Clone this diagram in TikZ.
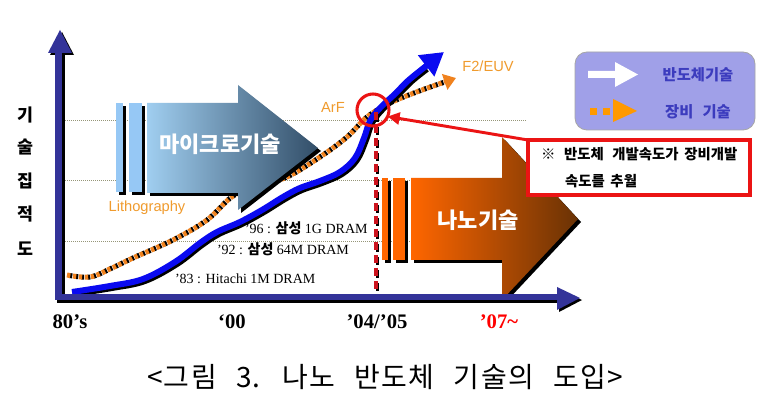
\documentclass[tikz,border=0pt]{standalone}
\usepackage{fontspec}
\setmainfont{Liberation Serif}
\newfontfamily\kr{Noto Sans CJK KR}
\newfontfamily\krcap[WordSpace=2.5,LetterSpace=5]{Noto Sans CJK KR}
\newfontfamily\arial{Liberation Sans}
\usetikzlibrary{arrows.meta}
\definecolor{navy}{RGB}{51,51,153}
\definecolor{curveblue}{RGB}{10,10,240}
\definecolor{curveorange}{RGB}{240,130,30}
\definecolor{textorange}{RGB}{240,155,45}
\definecolor{gridc}{RGB}{150,150,120}
\definecolor{microL}{RGB}{160,206,240}
\definecolor{microR}{RGB}{50,78,104}
\definecolor{microbar}{RGB}{150,200,245}
\definecolor{nanoL}{RGB}{255,102,0}
\definecolor{nanoR}{RGB}{105,50,5}
\definecolor{legendfill}{RGB}{160,160,232}
\definecolor{legendtext}{RGB}{60,60,190}
\definecolor{legendorange}{RGB}{255,153,0}
\definecolor{calloutred}{RGB}{235,20,20}
\definecolor{dashred}{RGB}{205,20,30}
\tikzset{
  every node/.style={inner sep=0pt, outer sep=0pt},
  ylab/.style={font=\kr\bfseries\fontsize{13pt}{15pt}\selectfont},
  bigkr/.style={font=\kr\bfseries\fontsize{16.5pt}{18pt}\selectfont, text=white},
  dram/.style={font=\fontsize{10.5pt}{12pt}\selectfont, anchor=west},
  otext/.style={font=\arial\fontsize{11pt}{12pt}\selectfont, text=textorange},
  xlab/.style={font=\bfseries\fontsize{15.5pt}{17pt}\selectfont},
  gridline/.style={gridc, line width=0.7pt, dash pattern=on 0.75pt off 0.75pt},
  legtext/.style={font=\kr\bfseries\fontsize{11.5pt}{13pt}\selectfont, text=legendtext},
  calltext/.style={font=\kr\bfseries\fontsize{10.8pt}{13pt}\selectfont, anchor=west},
}
\newcommand{\samsung}{{\kr\bfseries 삼성}}
\begin{document}
\begin{tikzpicture}[x=0.75pt, y=-0.75pt]
\useasboundingbox (0,0) rectangle (771,420);
\fill[white] (0,0) rectangle (771,420);

% grid lines
\draw[gridline] (63,120) -- (527,120);
\draw[gridline] (63,180) -- (527,180);
\draw[gridline] (63,241) -- (527,241);

% orange dotted curve (equipment)
\def\opath{(67,275) (90,277) (112,268) (133,258) (173,240) (207,220) (233,196) (260,185) (287,177) (320,157) (347,137) (367,117) (390,103) (414,93) (436,85)}
\draw[black, line width=3.75pt, dash pattern=on 2pt off 2.5pt, dash phase=2.5pt] plot[smooth, tension=0.6] coordinates {\opath (445,82)};
\draw[curveorange, line width=3.75pt, dash pattern=on 2.5pt off 2pt, -{Triangle[length=9pt,width=12pt]}] plot[smooth, tension=0.6] coordinates {\opath (456,78)};

% blue curve (semiconductor)
\def\bpath{(72,292) (110,286) (143,279) (175,262) (200,243) (217,232) (240,222) (262,210) (283,197) (300,188) (320,181) (340,172) (355,158) (364,138) (370,121) (380,108) (396,93) (410,79)}
\draw[black, line width=4.5pt, shift={(2,2)}] plot[smooth, tension=0.6] coordinates {\bpath (425,67)};
\draw[curveblue, line width=4.5pt, -{Triangle[length=17pt,width=19pt]}] plot[smooth, tension=0.6] coordinates {\bpath (444,52)};

% micro arrow
\fill[black] (119,106) rectangle (126,195);
\fill[black] (132,106) rectangle (145,195);
\fill[microbar] (116,103) rectangle (123,192);
\fill[microbar] (129,103) rectangle (142,192);
\fill[black] (150,106) -- (241,106) -- (241,88) -- (321,151) -- (241,213) -- (241,196) -- (150,196) -- cycle;
\shade[left color=microL, right color=microR] (147,103) -- (238,103) -- (238,85) -- (318,148) -- (238,210) -- (238,193) -- (147,193) -- cycle;
\node[bigkr] (micro) at (220,144) {마이크로기술};

% nano arrow
\fill[black] (385,181) rectangle (391,263);
\fill[black] (396,181) rectangle (408,263);
\fill[nanoL] (382,178) rectangle (388,260);
\fill[nanoL] (393,178) rectangle (405,260);
\fill[black] (414,181) -- (505,181) -- (505,140) -- (581,222) -- (505,303) -- (505,263) -- (414,263) -- cycle;
\shade[left color=nanoL, right color=nanoR] (411,178) -- (502,178) -- (502,137) -- (578,219) -- (502,300) -- (502,260) -- (411,260) -- cycle;
\node[bigkr] (nano) at (478,220) {나노기술};

% red dashed vertical line
\draw[black, line width=2.6pt, dash pattern=on 6pt off 3.75pt] (377.5,114) -- (377.5,297);
\draw[dashred, line width=2.6pt, dash pattern=on 6pt off 3.75pt] (376,112) -- (376,296);

% axes
\fill[black] (57,55) rectangle (65,303);
\fill[black] (57,296) rectangle (559,303);
\fill[black] (50,55) -- (62,32) -- (74,55) -- cycle;
\fill[black] (559,289) -- (582,300) -- (559,312) -- cycle;
\fill[navy] (55,53) rectangle (62,300);
\fill[navy] (55,294) rectangle (557,300);
\fill[navy] (48,53) -- (60,30) -- (72,53) -- cycle;
\fill[navy] (557,287) -- (580,298) -- (557,310) -- cycle;

% y label
\node[ylab] (yl1) at (25,115) {기};
\node[ylab] (yl2) at (25,147) {술};
\node[ylab] (yl3) at (25,181) {집};
\node[ylab] (yl4) at (25,214) {적};
\node[ylab] (yl5) at (25,249) {도};

% DRAM labels
\node[dram] (d96) at (245,228) {’96 : \samsung{} 1G DRAM};
\node[dram] (d92) at (217,249) {’92 : \samsung{} 64M DRAM};
\node[dram] (d83) at (175,279) {’83 : Hitachi 1M DRAM};

% orange texts
\node[otext] (litho) at (147,208) {Lithography};
\node[otext] (arf) at (333,107) {ArF};
\node[otext] (f2) at (488,66) {F2/EUV};

% x labels
\node[xlab] (x80) at (70,322) {80’s};
\node[xlab] (x00) at (232,322) {‘00};
\node[xlab] (x04) at (377,322) {’04/’05};
\node[xlab, text=red] (x07) at (499,322) {’07\~{}};

% circle and callout
\node[draw=calloutred, line width=2.3pt, circle, minimum size=32*0.75pt] (cross) at (373,110) {};
\node[draw=calloutred, fill=white, line width=2.3pt, minimum width=222*0.75pt, minimum height=55*0.75pt] (callout) at (639,167.5) {};
\draw[calloutred, line width=2.2pt, -{Triangle[length=9pt,width=9pt]}] (callout.north west) -- (cross.-24);
\node[calltext] (c1) at (541,154) {※\hspace{0.6em}반도체\hspace{0.6em}개발속도가\hspace{0.4em}장비개발};
\node[calltext] (c2) at (565,181) {속도를\hspace{0.4em}추월};

% legend
\node[draw=gray!70, line width=0.6pt, fill=legendfill, rounded corners=9pt, minimum width=180*0.75pt, minimum height=78*0.75pt] (legend) at (665,91) {};
\fill[white] (588,71) -- (615,71) -- (615,62) -- (638,74.5) -- (615,87) -- (615,78) -- (588,78) -- cycle;
\fill[legendorange] (590,108) rectangle (597,115);
\fill[legendorange] (603,108) rectangle (610,115);
\fill[legendorange] (613,99) -- (637,111) -- (613,122) -- cycle;
\node[legtext] (lg1) at (698,75) {반도체기술};
\node[legtext] (lg2) at (698,112) {장비\hspace{0.6em}기술};

% caption
\node[font=\krcap\fontsize{21pt}{24pt}\selectfont] (caption) at (385,377) {<그림 3. 나노 반도체 기술의 도입>};
\end{tikzpicture}
\end{document}
